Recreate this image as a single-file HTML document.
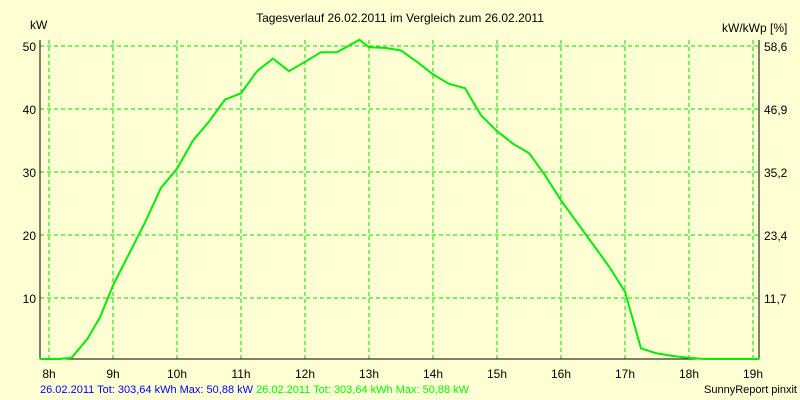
<!DOCTYPE html>
<html><head><meta charset="utf-8"><style>
html,body{margin:0;padding:0;background:#ffffd4;}
svg{display:block;font-family:"Liberation Sans",sans-serif;font-size:12px;}
</style></head><body>
<svg width="800" height="400">
<rect x="0" y="0" width="800" height="400" fill="#ffffd4"/>
<text x="400" y="22" text-anchor="middle">Tagesverlauf 26.02.2011 im Vergleich zum 26.02.2011</text>
<text x="30" y="29">kW</text>
<text x="722" y="32">kW/kWp [%]</text>
<g id="grid"></g>
<g id="axes"></g>
<g id="series"></g>
<text x="40" y="393" fill="#0000ff" font-size="11">26.02.2011 Tot: 303,64 kWh Max: 50,88 kW <tspan fill="#00ff00">26.02.2011 Tot: 303,64 kWh Max: 50,88 kW</tspan></text>
<text x="797" y="393" text-anchor="end" font-size="11">SunnyReport pinxit</text>
</svg>
<script>
const hours=[8,9,10,11,12,13,14,15,16,17,18,19];
const yTicks=[10,20,30,40,50];
const y2Labels=["11,7","23,4","35,2","46,9","58,6"];
const times=[7.85,8.15,8.35,8.6,8.8,9.0,9.25,9.5,9.75,10.0,10.25,10.5,10.75,11.0,11.25,11.5,11.75,12.0,12.25,12.5,12.85,13.0,13.25,13.5,13.75,14.0,14.25,14.5,14.75,15.0,15.25,15.5,15.75,16.0,16.25,16.5,16.75,17.0,17.25,17.5,17.75,18.0,18.25,18.5,19.1];
const values=[0,0,0.5,3.5,7,12,17,22,27.5,30.5,35,38,41.5,42.5,46,48,46,47.5,49,49,51,49.8,49.7,49.3,47.5,45.5,44,43.3,39,36.5,34.5,33,29.5,25.5,22,18.5,15,11,2,1.2,0.8,0.5,0.2,0,0];
const L=40,R=759,T=40,B=359;
const xs=h=>49+(h-8)*64;
const ys=v=>361-6.3*v;
const NS="http://www.w3.org/2000/svg";
function mk(parent,tag,attrs){const e=document.createElementNS(NS,tag);for(const k in attrs)e.setAttribute(k,attrs[k]);document.getElementById(parent).appendChild(e);return e;}
hours.forEach(h=>{
 const l=mk('grid','line',{x1:xs(h),x2:xs(h),y1:T,y2:B,stroke:'#00dd00','stroke-dasharray':'4,3'});
 
 
 const t=mk('axes','text',{x:xs(h),y:378,'text-anchor':'middle'});t.textContent=h+'h';
 
 
});
yTicks.forEach((v,i)=>{
 const l=mk('grid','line',{x1:L,x2:R,y1:ys(v),y2:ys(v),stroke:'#00dd00','stroke-dasharray':'4,3'});
 
 
 const t=mk('axes','text',{x:36,y:ys(v)+5,'text-anchor':'end'});t.textContent=v;
 
 
 const t2=mk('axes','text',{x:764,y:ys(v)+5});t2.textContent=y2Labels[i];
 
 
});
const ax=mk('axes','path',{d:`M${L},${T}V${B}H${R}V${T}`,fill:'none',stroke:'#000'});


const ptsStr=times.map((t,i)=>xs(t).toFixed(1)+','+Math.min(B,ys(values[i])).toFixed(1)).join(' ');
const pl=mk('series','polyline',{points:ptsStr,fill:'none',stroke:'#00ee00','stroke-width':2});


</script>
</body></html>
